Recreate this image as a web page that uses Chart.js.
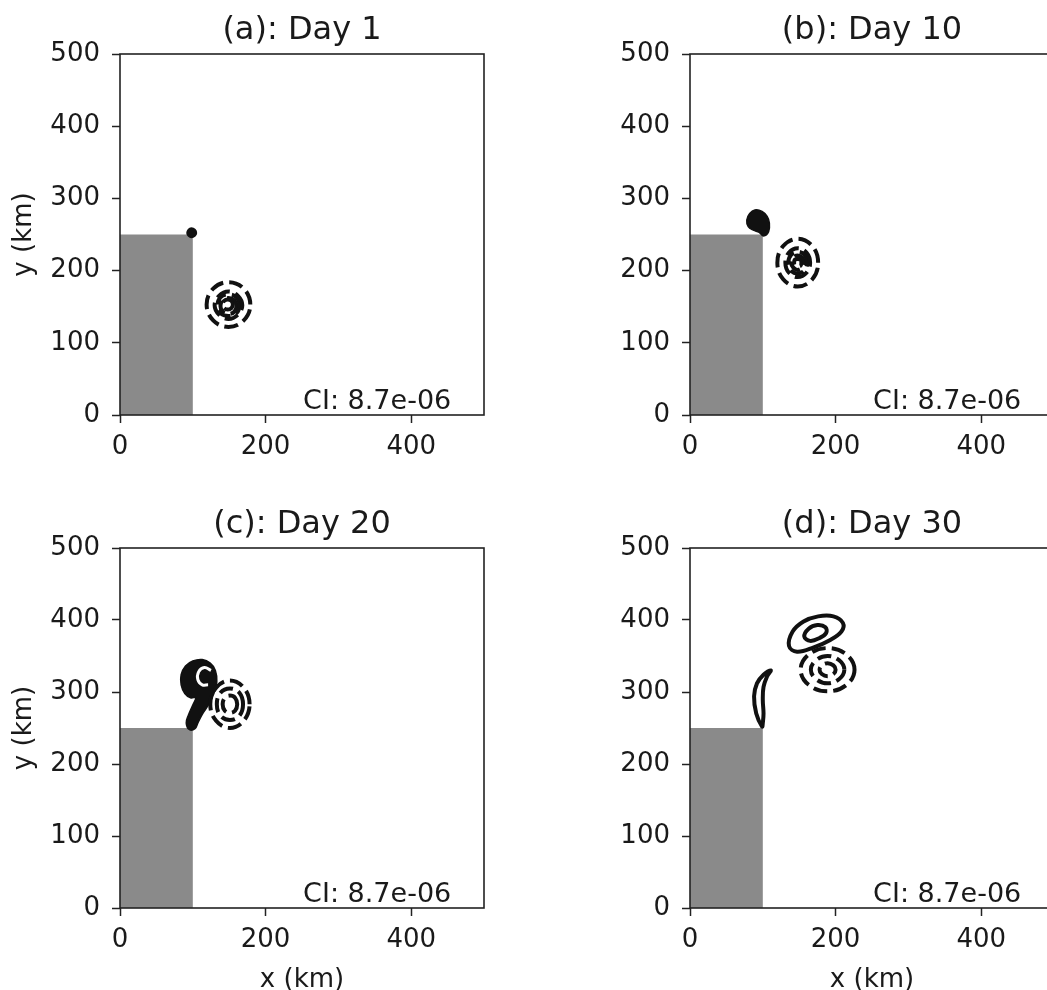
<!DOCTYPE html>
<html>
<head>
<meta charset="utf-8">
<script src="https://cdn.jsdelivr.net/npm/chart.js@4.4.1/dist/chart.umd.min.js"></script>
<style>
  html, body { margin: 0; padding: 0; background: #fff; overflow: hidden; }
  body { width: 1047px; height: 990px; position: relative; }
  canvas { position: absolute; }
</style>
</head>
<body>
<canvas id="panel-a" width="520" height="494" style="left:0;top:0"></canvas>
<canvas id="panel-b" width="520" height="494" style="left:570px;top:0"></canvas>
<canvas id="panel-c" width="520" height="503" style="left:0;top:494px"></canvas>
<canvas id="panel-d" width="520" height="503" style="left:570px;top:494px"></canvas>
<script>
var xTicks = [0, 200, 400];
var yTicks = [0, 100, 200, 300, 400, 500];
var titles = ['(a): Day 1', '(b): Day 10', '(c): Day 20', '(d): Day 30'];
var ciLabel = 'CI: 8.7e-06';

// land block (gray), same in every panel, km
var land = [[0, 0], [100, 0], [100, 250], [0, 250]];

// Day 1
var day1_fill = [
  [[92,252],[94,257],[98,259],[103,257],[105,252],[103,248],[98,246],[94,248]]
];
var day1_solid = [];
var day1_dashed = [
  [[179,153],[170,175],[149,184],[128,175],[119,153],[128,131],[149,122],[170,131]],
  [[168,152],[162,165],[149,171],[136,165],[130,152],[136,139],[149,133],[162,139]],
  [[164,152],[160,163],[149,167],[138,163],[134,152],[138,141],[149,137],[160,141]],
  [[160,151],[157,159],[149,162],[141,159],[138,151],[141,143],[149,140],[157,143]],
  [[155,153],[153,158],[148,160],[143,158],[141,153],[143,148],[148,146],[153,148]]
];

// Day 10
var day10_fill = [
  [[101,248],[108,254],[109,266],[106,275],[99,282],[89,284],[82,279],[78,270],[80,261],[87,256],[95,253]]
];
var day10_solid = [];
var day10_dashed = [
  [[176,211],[168,234],[148,244],[128,234],[120,211],[128,188],[148,178],[168,188]],
  [[165,211],[160,225],[148,231],[136,225],[131,211],[136,197],[148,191],[160,197]],
  [[161,211],[157,222],[148,226],[139,222],[135,211],[139,200],[148,196],[157,200]],
  [[157,211],[154,218],[148,221],[142,218],[139,211],[142,204],[148,201],[154,204]],
  [[153,211],[152,215],[148,216],[144,215],[143,211],[144,207],[148,206],[152,207]]
];

// Day 20
var day20_fill = [
  [[103,249],[107,257],[113,269],[122,283],[129,298],[133,314],[131,330],[124,340],[113,345],[100,343],
   [90,336],[84,324],[84,310],[89,298],[97,292],[104,292],[100,282],[94,268],[91,257],[95,248]]
];
var day20_gap = [
  [[125,330],[116,334],[108,328],[107,317],[113,310],[121,310]]
];
var day20_solid = [];
var day20_dashed = [
  [[178,283],[170,306],[151,316],[132,306],[124,283],[132,260],[151,250],[170,260]],
  [[169,283],[164,299],[151,305],[138,299],[133,283],[138,267],[151,261],[164,267]],
  [[161,283],[158,292],[151,295],[144,292],[141,283],[144,274],[151,271],[158,274]]
];

// Day 30
var day30_fill = [];
var day30_solid = [
  [[99,252],[91,270],[88,294],[92,312],[101,324],[111,330],[106,322],[101,307],[100,289],[101,270],[100,257]],
  [[136,364],[141,384],[156,398],[176,405],[197,405],[210,396],[208,384],[192,372],[170,362],[147,356]],
  [[157,377],[163,388],[175,393],[186,390],[187,382],[178,375],[165,371]]
];
var day30_dashed = [
  [[226,331],[215,352],[189,361],[163,352],[152,331],[163,310],[189,301],[215,310]],
  [[212,331],[205,344],[189,350],[173,344],[166,331],[173,318],[189,312],[205,318]],
  [[200,331],[197,337],[189,340],[181,337],[178,331],[181,325],[189,322],[197,325]]
];

var FONT = 'DejaVu Sans';
var INK = '#1a1a1a';

var landStyle = {backgroundColor: '#8a8a8a', borderWidth: 0, fill: 'shape', tension: 0, closed: false};
var fillStyle = {backgroundColor: '#111', borderColor: '#111', borderWidth: 1.5, fill: 'shape'};
var solidStyle = {borderColor: '#111', borderWidth: 4, fill: false};
var dashStyle = {borderColor: '#111', borderWidth: 4, borderDash: [14, 6], fill: false};
var gapStyle = {borderColor: '#fff', borderWidth: 3, fill: false, closed: false};

function contourSets(list, style) {
  return list.map(function (pts) {
    return Object.assign({
      data: pts.map(function (p) { return {x: p[0], y: p[1]}; }),
      showLine: true,
      pointRadius: 0,
      tension: 0.4,
      borderJoinStyle: 'round',
      closed: true
    }, style);
  });
}

// contours are closed curves: make the line element loop back smoothly
var closeLoops = {
  id: 'closeLoops',
  afterDatasetUpdate: function (chart, args) {
    var ds = chart.data.datasets[args.index];
    var line = args.meta.dataset;
    if (ds.closed && line) {
      line._loop = true;
      line._fullLoop = true;
      line._pointsUpdated = false;
      delete line._segments;
      delete line._path;
    }
  }
};

// box around the axes + contour interval note
var frame = {
  id: 'frame',
  afterDraw: function (chart) {
    var a = chart.chartArea, ctx = chart.ctx;
    ctx.save();
    ctx.strokeStyle = '#222';
    ctx.lineWidth = 1.6;
    ctx.strokeRect(a.left, a.top, a.right - a.left, a.bottom - a.top);
    ctx.fillStyle = INK;
    ctx.font = '27px "' + FONT + '"';
    ctx.textAlign = 'right';
    ctx.textBaseline = 'alphabetic';
    ctx.fillText(ciLabel, chart.scales.x.getPixelForValue(455), chart.scales.y.getPixelForValue(8));
    ctx.restore();
  }
};

function buildPanel(p) {
  var datasets = []
    .concat(contourSets(p.gaps || [], gapStyle))
    .concat(contourSets(p.dashed, dashStyle))
    .concat(contourSets(p.solid, solidStyle))
    .concat(contourSets(p.fills, fillStyle))
    .concat(contourSets([land], landStyle));

  new Chart(document.getElementById(p.id), {
    type: 'scatter',
    data: {datasets: datasets},
    options: {
      responsive: false,
      animation: false,
      events: [],
      layout: {padding: {left: 0, right: 36, top: 0, bottom: 0}},
      plugins: {
        legend: {display: false},
        tooltip: {enabled: false},
        title: {
          display: true, text: p.title, fullSize: false, color: INK,
          font: {family: FONT, size: 32, weight: 'normal', lineHeight: 1.2},
          padding: {top: 11, bottom: 4.6}
        }
      },
      scales: {
        x: {
          type: 'linear', min: 0, max: 500,
          afterBuildTicks: function (s) { s.ticks = xTicks.map(function (v) { return {value: v}; }); },
          afterFit: function (s) { s.height = p.xAxisH; },
          grid: {drawOnChartArea: false, tickLength: 8, tickWidth: 1.5, tickColor: '#222'},
          border: {display: false},
          ticks: {font: {family: FONT, size: 26}, color: INK, padding: 9, maxRotation: 0},
          title: {display: p.xTitle, text: 'x (km)', color: INK,
                  font: {family: FONT, size: 26}, padding: {top: 0, bottom: 1.4}}
        },
        y: {
          type: 'linear', min: 0, max: 500,
          afterBuildTicks: function (s) { s.ticks = yTicks.map(function (v) { return {value: v}; }); },
          afterFit: function (s) { s.width = 120; },
          grid: {drawOnChartArea: false, tickLength: 8, tickWidth: 1.5, tickColor: '#222'},
          border: {display: false},
          ticks: {font: {family: FONT, size: 26}, color: INK, padding: 12},
          title: {display: p.yTitle, text: 'y (km)', color: INK,
                  font: {family: FONT, size: 26}, padding: {top: 9, bottom: 0}}
        }
      }
    },
    plugins: [closeLoops, frame]
  });
}

buildPanel({id: 'panel-a', title: titles[0], fills: day1_fill, solid: day1_solid, dashed: day1_dashed,
            xTitle: false, yTitle: true, xAxisH: 79});
buildPanel({id: 'panel-b', title: titles[1], fills: day10_fill, solid: day10_solid, dashed: day10_dashed,
            xTitle: false, yTitle: false, xAxisH: 79});
buildPanel({id: 'panel-c', title: titles[2], fills: day20_fill, solid: day20_solid, dashed: day20_dashed,
            gaps: day20_gap, xTitle: true, yTitle: true, xAxisH: 89});
buildPanel({id: 'panel-d', title: titles[3], fills: day30_fill, solid: day30_solid, dashed: day30_dashed,
            xTitle: true, yTitle: false, xAxisH: 89});
</script>
</body>
</html>
